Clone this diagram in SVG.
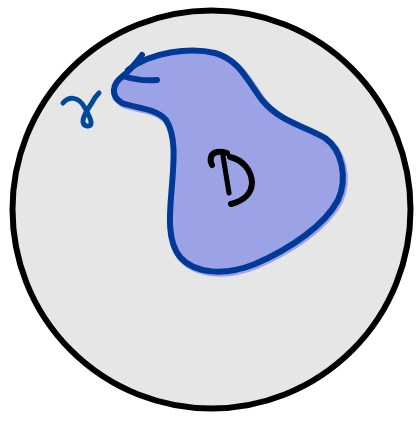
<svg xmlns="http://www.w3.org/2000/svg" width="418" height="421" viewBox="0 0 418 421">
<style>
.ink{fill:none;stroke-linecap:round;stroke-linejoin:round}
</style>
<rect width="418" height="421" fill="#ffffff"/>
<g id="disc">
<circle cx="211.5" cy="209.5" r="199" fill="#e6e6e6" stroke="#000" stroke-width="6"/>
</g>
<g id="region-D">
<path d="M123,76 C112,84 110,96 122,103 C135,108 156,108 166,120 C176,135 174,160 172,185 C170,210 166,240 180,257 C195,274 225,276 255,264 C290,249 325,225 338,200 C348,178 342,150 325,138 C305,126 280,122 262,100 C248,82 240,60 215,53 C190,47 150,52 128,70 Z" fill="#9ba2e6" stroke="#9ba2e6" stroke-width="7" transform="translate(1.5,1.5)"/>
<path class="ink" d="M128,70 C150,52 190,47 215,53 C240,60 248,82 262,100 C280,122 305,126 325,138 C342,150 348,178 338,200 C325,225 290,249 255,264 C225,276 195,274 180,257 C166,240 170,210 172,185 C174,160 176,135 166,120 C156,108 135,108 122,103 C110,96 112,84 123,76" stroke="#003a96" stroke-width="6"/>
<path class="ink" d="M142,55 C136,63 130,70 123,76 C132,79 145,81 157,80" stroke="#003a96" stroke-width="6"/>
</g>
<g id="label-D">
<path class="ink" d="M212,165 C209,159 211,153 217,152 C221,151 224,152 227,153" stroke="#000" stroke-width="6"/>
<path class="ink" d="M223,156 C225,168 227,180 229,193" stroke="#000" stroke-width="5"/>
<path class="ink" d="M230,157 C243,160 251,170 252,182 C252,194 243,201 231,204" stroke="#000" stroke-width="6"/>
</g>
<g id="label-gamma">
<path class="ink" d="M63,103 C68,97 78,95 85,108 C88,114 92,120 91,124 C90,127 84,127 83,122 C82,116 89,108 93,101 C95,97 97,95 99,93" stroke="#00489a" stroke-width="5"/>
</g>
</svg>
